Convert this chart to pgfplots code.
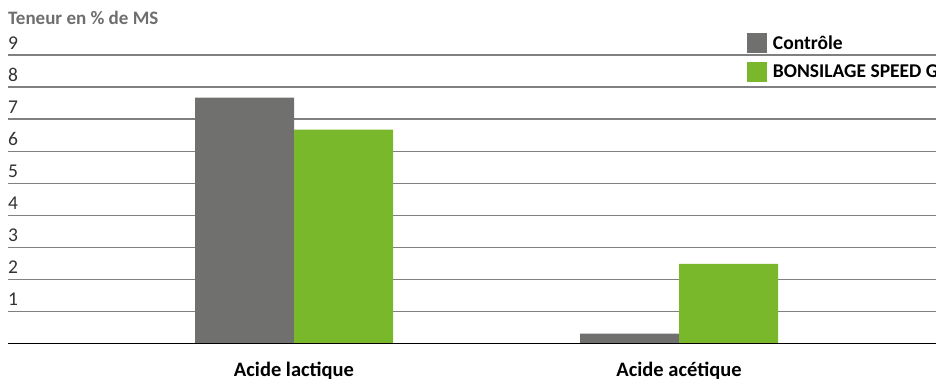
\documentclass[border=0pt]{standalone}
\usepackage{fontspec}
\setmainfont{Carlito}
\usepackage{pgfplots}
\pgfplotsset{compat=1.18}
\definecolor{ctrl}{RGB}{112,112,110}
\definecolor{bons}{RGB}{120,184,42}
\definecolor{gridc}{RGB}{128,128,128}
\definecolor{titlec}{RGB}{110,110,110}
\definecolor{tickc}{RGB}{50,50,50}
\begin{document}
\begin{tikzpicture}[x=1pt,y=1pt]
\path[use as bounding box, clip] (0,0) rectangle (936,378);
\begin{axis}[
  at={(8pt,34.7pt)}, anchor=south west,
  scale only axis, width=928pt, height=288.3pt,
  xmin=-0.7429, xmax=1.6675, ymin=0, ymax=9,
  ybar=0pt, bar width=99pt,
  axis line style={draw=none}, tick style={draw=none},
  ytick={1,2,3,4,5,6,7,8,9},
  ymajorgrids, grid style={gridc, line width=1.2pt},
  xtick={0,1}, xticklabels={Acide lactique, Acide acétique},
  /pgf/number format/assume math mode=true,
  yticklabel style={anchor=base west, inner sep=0pt, yshift=6pt, text=tickc, font=\fontsize{19.5}{22}\selectfont},
  xticklabel style={anchor=base, inner sep=0pt, yshift=-29pt, font=\bfseries\fontsize{20.5}{23}\selectfont},
  legend image code/.code={\fill[#1] (0pt,0pt) rectangle (20pt,20pt);},
  legend style={at={(rel axis cs:0.7963,1.0763)}, anchor=north west, draw=none, fill=none,
    inner sep=0pt, outer sep=0pt, row sep=5pt, column sep=4pt,
    cells={anchor=base west, inner sep=0pt},
    font=\bfseries\fontsize{19.5}{22}\selectfont},
]
\addplot[fill=ctrl, draw=none] coordinates {(0,7.67) (1,0.3)};
\addplot[fill=bons, draw=none] coordinates {(0,6.67) (1,2.48)};
\legend{\raisebox{4pt}{Contrôle}, \raisebox{4pt}{BONSILAGE SPEED G}}
\draw[black, line width=4pt] ([yshift=-2pt]rel axis cs:0,0) -- ([yshift=-2pt]rel axis cs:1,0);
\end{axis}
\node[anchor=base west, inner sep=0pt, text=titlec, font=\bfseries\fontsize{19}{22}\selectfont] at (8,353) {Teneur en \% de MS};
\end{tikzpicture}
\end{document}
